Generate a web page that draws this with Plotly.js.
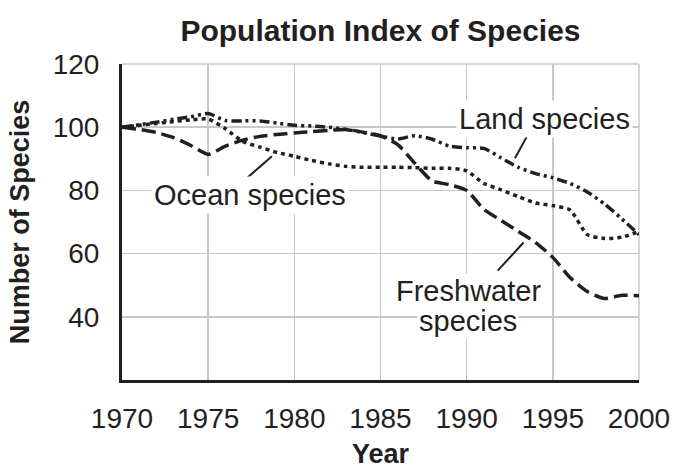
<!DOCTYPE html>
<html>
<head>
<meta charset="utf-8">
<script src="https://cdn.plot.ly/plotly-3.0.1.min.js"></script>
<style>html,body{margin:0;padding:0;background:#fff;}#chart{width:673px;height:469px;}</style>
</head>
<body>
<div id="chart"></div>
<script>
const years = [1970,1971,1972,1973,1974,1975,1976,1977,1978,1979,1980,1981,1982,1983,1984,1985,1986,1987,1988,1989,1990,1991,1992,1993,1994,1995,1996,1997,1998,1999,2000];
const freshwater = [100,99.3,98.3,96.7,94.2,91.4,94,95.9,97.1,97.7,98.2,98.6,99,99.3,98.4,97.3,94.5,88.5,83,81.8,80,74,70.5,67,63.5,58.8,52.4,48,45.8,46.8,46.7];
const ocean = [100,100.6,101.2,101.8,102.3,102.6,99.5,95.5,93.7,92,90.8,89.5,88.4,87.6,87.3,87.3,87.3,87.2,87,87,86.2,82.2,80.2,78,76,75.2,73.8,66,64.8,65.2,67];
const land = [100,100.8,101.6,102.5,103.3,104.3,102.1,102,102,101.3,100.6,100.4,100,99.3,98.3,97.2,96.3,97.3,96.2,94,93.5,93.3,90.3,87.3,85.3,84,82.2,79.5,75.7,71,66];
const xTicks = [1970,1975,1980,1985,1990,1995,2000];
const yTicks = [40,60,80,100,120];

const ink = '#231f20';
const FONT = 'Liberation Sans, Arial, Helvetica, sans-serif';

const traces = [
  {x: years, y: freshwater, name: 'Freshwater species', mode: 'lines',
   line: {color: ink, width: 3.5, dash: '14px,6px', shape: 'spline', smoothing: 0.6}},
  {x: years, y: ocean, name: 'Ocean species', mode: 'lines',
   line: {color: ink, width: 3.5, dash: '4px,4px', shape: 'spline', smoothing: 0.6}},
  {x: years, y: land, name: 'Land species', mode: 'lines',
   line: {color: ink, width: 3.5, dash: '10px,4px,3px,4px,3px,4px', shape: 'spline', smoothing: 0.6}}
];

const layout = {
  width: 673, height: 469,
  margin: {l: 122, r: 34, t: 64, b: 89},
  paper_bgcolor: '#fff', plot_bgcolor: '#fff',
  showlegend: false,
  font: {family: FONT, color: ink, size: 28},
  title: {text: '<b>Population Index of Species</b>', font: {size: 30, color: ink, family: FONT},
          xref: 'paper', x: 0.5, xanchor: 'center', yref: 'container', y: 1 - 30/469, yanchor: 'middle'},
  xaxis: {range: [1970, 2000], tickvals: xTicks, ticktext: xTicks.map(String),
          showgrid: true, gridcolor: '#c8c8cc', gridwidth: 1.5,
          showline: true, linecolor: ink, linewidth: 3, ticks: '', zeroline: false,
          ticklabelstandoff: 11, tickfont: {size: 28},
          title: {text: '<b>Year</b>', font: {size: 27}, standoff: 14}},
  yaxis: {range: [20, 120], tickvals: yTicks, ticktext: yTicks.map(String),
          showgrid: true, gridcolor: '#c8c8cc', gridwidth: 1.5,
          showline: true, linecolor: ink, linewidth: 3, ticks: '', zeroline: false,
          ticklabelstandoff: 14, tickfont: {size: 28},
          title: {text: '<b>Number of Species</b>', font: {size: 27}, standoff: 16}},
  shapes: [
    {type: 'line', xref: 'paper', yref: 'paper', x0: 0, x1: 1, y0: 1, y1: 1, line: {color: '#c8c8cc', width: 1.5}, layer: 'below'},
    {type: 'line', xref: 'paper', yref: 'paper', x0: 1, x1: 1, y0: 0, y1: 1, line: {color: '#c8c8cc', width: 1.5}, layer: 'below'},
    {type: 'line', x0: 1976.96, y0: 82.5, x1: 1978.7, y1: 90.8, line: {color: ink, width: 2}},
    {type: 'line', x0: 1992.8, y0: 90.2, x1: 1993.6, y1: 98.1, line: {color: ink, width: 2}},
    {type: 'line', x0: 1991.8, y0: 54.6, x1: 1993.3, y1: 63.5, line: {color: ink, width: 2}}
  ],
  annotations: [
    {x: 1977.4, y: 78.4, text: 'Ocean species', showarrow: false, bgcolor: '#fff', borderpad: 2, font: {size: 29}},
    {x: 1994.5, y: 102.6, text: 'Land species', showarrow: false, bgcolor: '#fff', borderpad: 2, font: {size: 29}},
    {x: 1990.1, y: 48.2, text: 'Freshwater', showarrow: false, bgcolor: '#fff', borderpad: 1, font: {size: 29}},
    {x: 1990.1, y: 38.6, text: 'species', showarrow: false, bgcolor: '#fff', borderpad: 1, font: {size: 29}}
  ]
};

Plotly.newPlot('chart', traces, layout, {displayModeBar: false, staticPlot: true});
</script>
</body>
</html>
